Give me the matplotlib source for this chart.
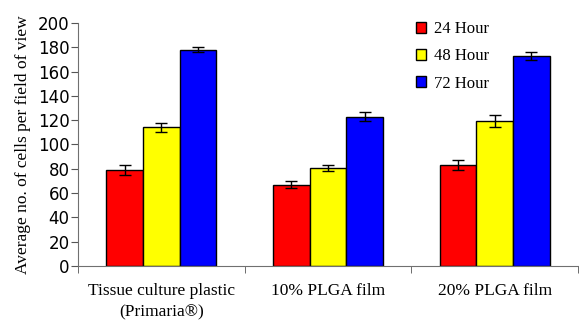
import numpy as np
import matplotlib.pyplot as plt

groups = ['Tissue culture plastic\n(Primaria®)', '10% PLGA film', '20% PLGA film']
series = ['24 Hour', '48 Hour', '72 Hour']
colors = ['#ff0000', '#ffff00', '#0000ff']
means = [[79, 67, 83],
         [114, 81, 119],
         [178, 123, 173]]
errs = [[4, 3, 4],
        [4, 2.5, 5],
        [2, 3.5, 3.5]]

fig = plt.figure(figsize=(5.79, 3.22), dpi=100)
ax = fig.add_axes([0.1347, 0.174, 0.8636, 0.7546])

x = np.arange(len(groups))
w = 0.22
for i, name in enumerate(series):
    ax.bar(x + (i - 1) * w, means[i], w, color=colors[i], edgecolor='black',
           linewidth=1, label=name, zorder=2)
    ax.errorbar(x + (i - 1) * w, means[i], yerr=errs[i], fmt='none',
                ecolor='black', elinewidth=1, capsize=4, capthick=1, zorder=3)

ax.set_xlim(-0.5, 2.5)
ax.set_ylim(0, 200)
ax.set_yticks(range(0, 201, 20))
ax.set_xticks(x)
ax.set_xticklabels(groups, family='Liberation Serif', fontsize=12.5, linespacing=1.5)
ax.set_xticks([-0.5, 0.5, 1.5, 2.5], minor=True)
ax.tick_params(axis='x', which='major', length=0, pad=12)
ax.tick_params(axis='x', which='minor', length=5, color='#555555', direction='out')
ax.tick_params(axis='y', length=5, color='#555555', labelsize=12, pad=1)
for t in ax.get_yticklabels():
    t.set_family('DejaVu Sans')

for s in ['top', 'right']:
    ax.spines[s].set_visible(False)
for s in ['left', 'bottom']:
    ax.spines[s].set_color('#707070')

ax.set_ylabel('Average no. of cells per field of view', family='Liberation Serif',
              fontsize=12.5, labelpad=5)

ax.legend(loc='upper left', bbox_to_anchor=(0.645, 1.07), frameon=False,
          prop={'family': 'Liberation Serif', 'size': 12}, handlelength=0.65,
          handleheight=0.65, labelspacing=0.68, handletextpad=0.45)

fig.savefig('out.png', dpi=100)
